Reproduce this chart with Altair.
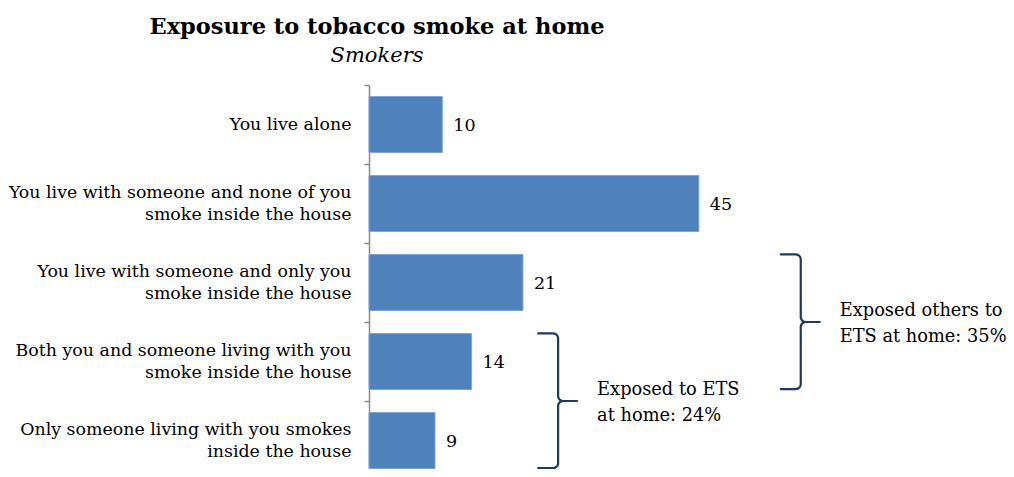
import altair as alt
import numpy as np
import pandas as pd

# ---------------- data ----------------
categories = [
    "You live alone",
    "You live with someone and none of you\nsmoke inside the house",
    "You live with someone and only you\nsmoke inside the house",
    "Both you and someone living with you\nsmoke inside the house",
    "Only someone living with you smokes\ninside the house",
]
values = [10, 45, 21, 14, 9]

brace_labels = ["Exposed others to\nETS at home: 35%", "Exposed to ETS\nat home: 24%"]
brace_first_row = [2, 3]
brace_last_row = [3, 4]
brace_x = [58.9, 25.8]  # position of the brace spine, in value units

# ---------------- layout / style ----------------
SERIF = "DejaVu Serif"
W, H = 637, 384          # drawn area (page must not scroll)
Y_RANGE = 395            # full band range (last row runs past the bottom edge)
X_MAX = 86.9
PAD_IN, PAD_OUT = 0.29, 0.145
N = len(categories)
STEP = Y_RANGE / N
PX_PER_UNIT = W / X_MAX
LABEL_LH = 22
BAR_COLOR = "#4F81BD"
NAVY = "#1F3A60"
GREY = "#8C8C8C"

df = pd.DataFrame({"category": categories, "value": values})

# brace geometry (pixel sizes converted to data units)
HOOK, TIP, R = 20, 19, 5


def brace(bid, xb, first, last):
    top = (first + PAD_OUT) * STEP
    bot = (last + PAD_OUT + 1 - PAD_IN) * STEP - 0.5
    mid = (first + last + 2 * PAD_OUT + 1 - PAD_IN) / 2 * STEP
    th = np.linspace(0, np.pi / 2, 7)
    pts = [(-HOOK, top)]
    pts += [(-R + R * np.sin(t), top + R - R * np.cos(t)) for t in th]
    pts += [(R - R * np.cos(t), mid - R + R * np.sin(t)) for t in th]
    pts += [(TIP, mid)]
    pts += [(R - R * np.cos(t), mid + R - R * np.sin(t)) for t in th[::-1]]
    pts += [(-R + R * np.cos(t), bot - R + R * np.sin(t)) for t in th]
    pts += [(-HOOK, bot)]
    return [
        {"brace": bid, "i": i, "bx": xb + px / PX_PER_UNIT, "by": py / STEP}
        for i, (px, py) in enumerate(pts)
    ]


rows = []
for k in range(len(brace_labels)):
    rows += brace(k, brace_x[k], brace_first_row[k], brace_last_row[k])
bdf = pd.DataFrame(rows)

adf = pd.DataFrame({
    "label": brace_labels,
    "ax": [b + 39 / PX_PER_UNIT for b in brace_x],
    "ay": [((f + PAD_OUT) + (l + PAD_OUT + 1 - PAD_IN)) / 2
           for f, l in zip(brace_first_row, brace_last_row)],
})

xscale = alt.Scale(domain=[0, X_MAX], nice=False, zero=True)
yband = alt.Scale(paddingInner=PAD_IN, paddingOuter=PAD_OUT, range=[0, Y_RANGE])
yquant = alt.Scale(domain=[0, N], range=[0, Y_RANGE], nice=False, zero=False)

base = alt.Chart(df).encode(
    y=alt.Y(
        "category:N", sort=None, scale=yband, title=None,
        axis=alt.Axis(
            labelExpr="split(datum.label, '\\n')",
            labelFont=SERIF, labelFontSize=17.4, labelLineHeight=LABEL_LH,
            labelColor="black", labelPadding=13, labelLimit=0,
            tickSize=5, tickColor=GREY, tickWidth=1.5,
            domainColor=GREY, domainWidth=1.5,
            tickOffset=-STEP / 2,
            labelOffset={
                "condition": {
                    "test": "indexof(datum.label, '\\n') >= 0",
                    "value": STEP / 2 - LABEL_LH / 2,
                },
                "value": STEP / 2,
            },
            grid=False,
        ),
    ),
    x=alt.X("value:Q", scale=xscale, axis=None),
)

bars = base.mark_bar(color=BAR_COLOR, stroke="#7EA6D8", strokeWidth=1)
vals = base.mark_text(
    align="left", baseline="middle", dx=11, dy=1, font=SERIF, fontSize=17.5,
    color="black",
).encode(text="value:Q")

braces = alt.Chart(bdf).mark_line(
    color=NAVY, strokeWidth=2.2, strokeCap="round", strokeJoin="round"
).encode(
    x=alt.X("bx:Q", scale=xscale, axis=None),
    y=alt.Y("by:Q", scale=yquant, axis=None),
    order="i:Q",
    detail="brace:N",
)

ann = alt.Chart(adf).mark_text(
    align="left", baseline="middle", lineBreak="\n", font=SERIF,
    fontSize=17.8, lineHeight=26, dy=-11, color="black",
).encode(
    x=alt.X("ax:Q", scale=xscale, axis=None),
    y=alt.Y("ay:Q", scale=yquant, axis=None),
    text="label:N",
)

chart = (
    alt.layer(alt.layer(bars, vals), alt.layer(braces, ann))
    .resolve_scale(y="independent")
    .properties(
        width=W,
        height=H,
        autosize=alt.AutoSizeParams(type="none"),
        padding={"left": 361, "top": 77, "right": 0, "bottom": 0},
        title=alt.Title(
            "Exposure to tobacco smoke at home",
            subtitle="Smokers",
            font=SERIF, fontSize=22.5, fontWeight="bold", color="black",
            subtitleFont=SERIF, subtitleFontSize=21, subtitleFontStyle="italic",
            subtitleColor="black", subtitlePadding=7,
            anchor="middle", dx=-310.5, offset=18,
        ),
    )
    .configure_view(stroke=None)
)

chart.save("out.html", embed_options={"renderer": "svg", "actions": False})
